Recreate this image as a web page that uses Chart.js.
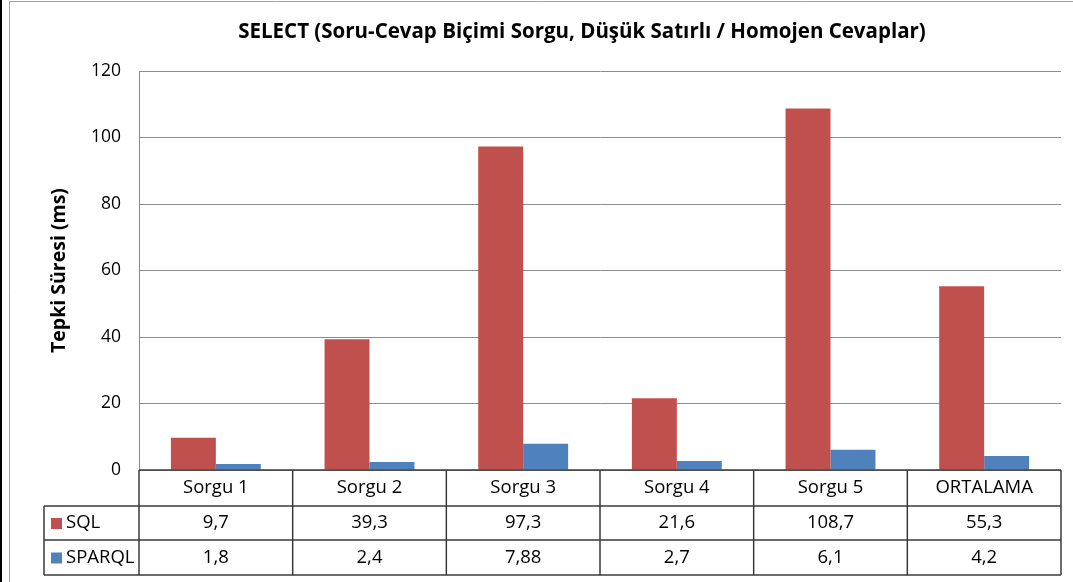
<!DOCTYPE html>
<html>
<head>
<meta charset="utf-8">
<script src="https://cdn.jsdelivr.net/npm/chart.js@4/dist/chart.umd.min.js"></script>
<style>
html,body{margin:0;padding:0;background:#fff;}
#wrap{width:1073px;height:582px;position:relative;}
</style>
</head>
<body>
<div id="wrap"><canvas id="c" width="1073" height="582"></canvas></div>
<script>
const categories = ["Sorgu 1", "Sorgu 2", "Sorgu 3", "Sorgu 4", "Sorgu 5", "ORTALAMA"];
const sqlValues = [9.7, 39.3, 97.3, 21.6, 108.7, 55.3];
const sparqlValues = [1.8, 2.4, 7.88, 2.7, 6.1, 4.2];
const seriesNames = ["SQL", "SPARQL"];
const seriesColors = ["#C0504D", "#4F81BD"];
const chartTitle = "SELECT (Soru-Cevap Biçimi Sorgu, Düşük Satırlı / Homojen Cevaplar)";
const yTitle = "Tepki Süresi (ms)";

const FONT = "'Open Sans', Lato, sans-serif";
const fmt = v => String(v).replace('.', ',');

const tablePlugin = {
  id: 'dataTable',
  afterDraw(chart) {
    const ctx = chart.ctx;
    const x = chart.scales.x;
    const area = chart.chartArea;
    const n = categories.length;
    const cw = (area.right - area.left) / n;
    const top = area.bottom;
    const rowH = [36, 34, 35];
    const y0 = top, y1 = y0 + rowH[0], y2 = y1 + rowH[1], y3 = y2 + rowH[2];
    const legendLeft = 44;
    ctx.save();
    // title
    ctx.fillStyle = '#000';
    ctx.font = 'bold 20.5px ' + FONT;
    ctx.textAlign = 'center';
    ctx.textBaseline = 'middle';
    ctx.fillText(chartTitle, 582, 32);
    // frame lines
    ctx.strokeStyle = '#3a3a3a';
    ctx.lineWidth = 1.5;
    ctx.beginPath();
    ctx.moveTo(area.left, y0); ctx.lineTo(area.right, y0);
    ctx.moveTo(legendLeft, y1); ctx.lineTo(area.right, y1);
    ctx.moveTo(legendLeft, y2); ctx.lineTo(area.right, y2);
    ctx.moveTo(legendLeft, y3); ctx.lineTo(area.right, y3);
    ctx.moveTo(legendLeft, y1); ctx.lineTo(legendLeft, y3);
    for (let i = 0; i <= n; i++) {
      const bx = area.left + i * cw;
      ctx.moveTo(bx, y0); ctx.lineTo(bx, y3);
    }
    ctx.stroke();
    // texts
    ctx.fillStyle = '#000';
    ctx.font = '18.5px ' + FONT;
    ctx.textAlign = 'center';
    ctx.textBaseline = 'middle';
    const rows = [sqlValues, sparqlValues];
    for (let i = 0; i < n; i++) {
      const cx = x.getPixelForValue(i);
      ctx.fillText(categories[i], cx, (y0 + y1) / 2);
      ctx.fillText(fmt(rows[0][i]), cx, (y1 + y2) / 2);
      ctx.fillText(fmt(rows[1][i]), cx, (y2 + y3) / 2);
    }
    // legend keys
    ctx.textAlign = 'left';
    const ys = [(y1 + y2) / 2, (y2 + y3) / 2];
    for (let r = 0; r < 2; r++) {
      ctx.fillStyle = seriesColors[r];
      ctx.fillRect(51, ys[r] - 5, 11, 11);
      ctx.fillStyle = '#000';
      ctx.fillText(seriesNames[r], 66, ys[r]);
    }
    // outer frame
    ctx.fillStyle = '#000';
    ctx.fillRect(0, 0, 2, 582);
    ctx.strokeStyle = '#a0a0a0';
    ctx.lineWidth = 1;
    ctx.beginPath();
    ctx.moveTo(9.5, 1.5); ctx.lineTo(1073, 1.5);
    ctx.moveTo(9.5, 1.5); ctx.lineTo(9.5, 582);
    ctx.stroke();
    ctx.restore();
  }
};

new Chart(document.getElementById('c'), {
  type: 'bar',
  data: {
    labels: categories,
    datasets: [
      { label: seriesNames[0], data: sqlValues, backgroundColor: seriesColors[0] },
      { label: seriesNames[1], data: sparqlValues, backgroundColor: seriesColors[1] }
    ]
  },
  options: {
    responsive: false,
    animation: false,
    layout: { padding: { left: 0, right: 12, top: 71, bottom: 112 } },
    datasets: { bar: { barPercentage: 1, categoryPercentage: 0.585 } },
    plugins: {
      legend: { display: false },
      tooltip: { enabled: false },
      title: { display: false }
    },
    scales: {
      x: { display: false },
      y: {
        min: 0, max: 120,
        ticks: { stepSize: 20, color: '#000', padding: 18, font: { family: FONT, size: 17.5 } },
        grid: { color: '#8c8c8c', lineWidth: 1, drawTicks: false },
        border: { display: true, color: '#8c8c8c', width: 1 },
        title: {
          display: true, text: yTitle, color: '#000',
          font: { family: FONT, size: 19.5, weight: 'bold' },
          padding: { top: 48, bottom: 0 }
        },
        afterFit(scale) { scale.width = 139; }
      }
    }
  },
  plugins: [tablePlugin]
});
</script>
</body>
</html>
